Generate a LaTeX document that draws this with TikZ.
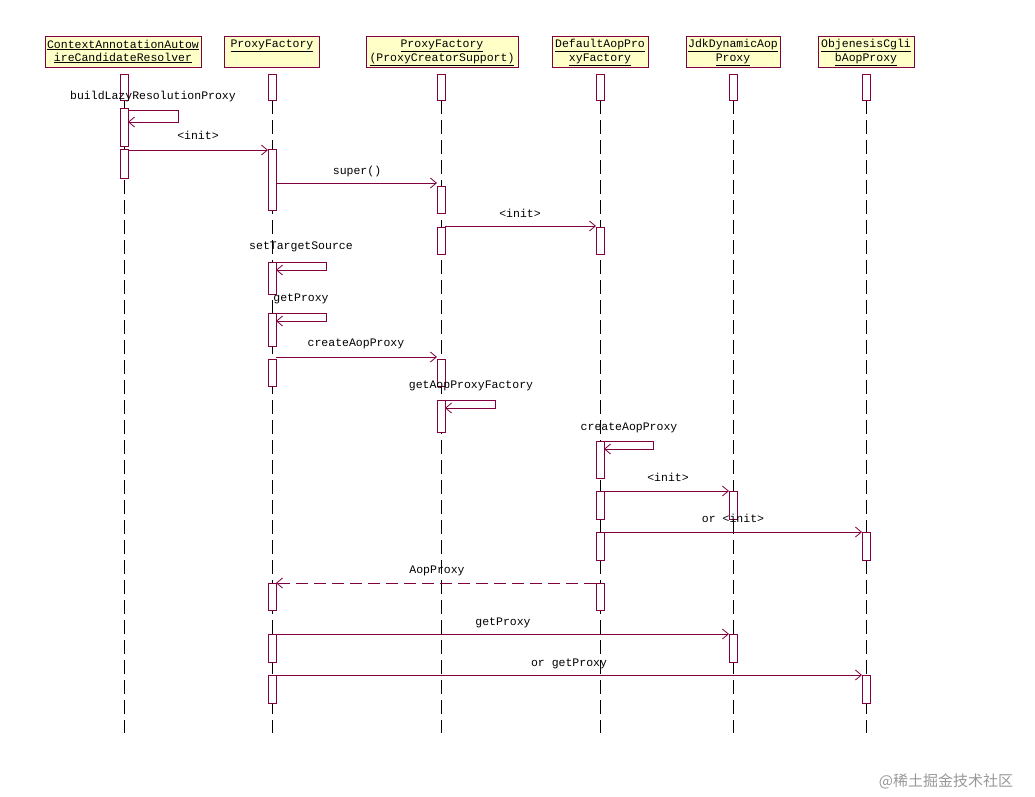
\documentclass[tikz,border=0pt]{standalone}
\usepackage{fontspec}
\setmainfont{Liberation Mono}
\newfontfamily\cjk{Noto Sans CJK SC}
\usetikzlibrary{arrows.meta}
\begin{document}
\begin{tikzpicture}[x=1pt,y=-1pt,
  font=\fontsize{11.5}{13}\selectfont,
  every node/.style={inner sep=1pt},
  hdr/.style={draw=mar,fill=hy,line width=0.8pt,minimum height=31pt,align=center,inner sep=1pt,anchor=north},
  bar/.style={draw=mar,fill=white,line width=0.8pt},
  life/.style={draw=black,line width=0.6pt,dash pattern=on 14pt off 6pt},
  msg/.style={draw=mar,line width=0.8pt,-{Straight Barb[length=6pt,width=10pt]}},
  ret/.style={msg,dash pattern=on 12pt off 6pt},
  lbl/.style={anchor=base}]
\definecolor{mar}{HTML}{800040}
\definecolor{hy}{HTML}{FFFFC8}
\useasboundingbox (0,0) rectangle (1035,796);
\fill[white] (0,0) rectangle (1035,796);
% lifelines
\foreach \n/\x in {a/124,b/272,c/441,d/600,e/733,f/866}{
  \coordinate (\n top) at (\x,100);
  \coordinate (\n bot) at (\x,733);
  \draw[life] (\n top) -- (\n bot);
}
% headers
\node[hdr,minimum width=156pt] (ha) at (123,36) {\strut\underline{ContextAnnotationAutow}\\\strut\underline{ireCandidateResolver}};
\node[hdr,minimum width=95pt] (hb) at (272,36) {\strut\underline{ProxyFactory}\\\strut};
\node[hdr,minimum width=152pt] (hc) at (442,36) {\strut\underline{ProxyFactory}\\\strut\underline{(ProxyCreatorSupport)}};
\node[hdr,minimum width=96pt] (hd) at (600,36) {\strut\underline{DefaultAopPro}\\\strut\underline{xyFactory}};
\node[hdr,minimum width=94pt] (he) at (733,36) {\strut\underline{JdkDynamicAop}\\\strut\underline{Proxy}};
\node[hdr,minimum width=96pt] (hf) at (866,36) {\strut\underline{ObjenesisCgli}\\\strut\underline{bAopProxy}};
% activation bars
\foreach \x/\a/\b in {124/74/100,124/108/146,124/149/178,
  272/74/100,272/149/210,272/262/294,272/313/346,272/359/386,272/583/610,272/634/662,272/675/703,
  441/74/100,441/186/213,441/227/254,441/359/386,441/400/432,
  600/74/100,600/227/254,600/441/478,600/491/519,600/532/560,600/583/610,
  733/74/100,733/491/519,733/634/662,
  866/74/100,866/532/560,866/675/703}{
  \draw[bar] (\x-4,\a) rectangle (\x+4,\b);
}
% coordinates for messages
\coordinate (s1a) at (128,110); \coordinate (s1b) at (128,122);
\coordinate (m1a) at (128,150); \coordinate (m1b) at (268,150);
\coordinate (m2a) at (276,183); \coordinate (m2b) at (437,183);
\coordinate (m3a) at (445,226); \coordinate (m3b) at (596,226);
\coordinate (s2a) at (276,262); \coordinate (s2b) at (276,270);
\coordinate (s3a) at (276,313); \coordinate (s3b) at (276,321);
\coordinate (m4a) at (276,357); \coordinate (m4b) at (437,357);
\coordinate (s4a) at (445,400); \coordinate (s4b) at (445,408);
\coordinate (s5a) at (604,441); \coordinate (s5b) at (604,449);
\coordinate (m5a) at (604,491); \coordinate (m5b) at (729,491);
\coordinate (m6a) at (604,532); \coordinate (m6b) at (862,532);
\coordinate (m7a) at (596,583); \coordinate (m7b) at (276,583);
\coordinate (m8a) at (276,634); \coordinate (m8b) at (729,634);
\coordinate (m9a) at (276,675); \coordinate (m9b) at (862,675);
% self messages
\draw[msg] (s1a) -- ++(50,0) |- (s1b);
\draw[msg] (s2a) -- ++(50,0) |- (s2b);
\draw[msg] (s3a) -- ++(50,0) |- (s3b);
\draw[msg] (s4a) -- ++(50,0) |- (s4b);
\draw[msg] (s5a) -- ++(49,0) |- (s5b);
% calls
\draw[msg] (m1a) -- (m1b);
\draw[msg] (m2a) -- (m2b);
\draw[msg] (m3a) -- (m3b);
\draw[msg] (m4a) -- (m4b);
\draw[msg] (m5a) -- (m5b);
\draw[msg] (m6a) -- (m6b);
\draw[ret] (m7a) -- (m7b);
\draw[msg] (m8a) -- (m8b);
\draw[msg] (m9a) -- (m9b);
% labels
\node[lbl] (l1) at (153,99) {buildLazyResolutionProxy};
\node[lbl] (l2) at (198,139) {<init>};
\node[lbl] (l3) at (357,174) {super()};
\node[lbl] (l4) at (520,217) {<init>};
\node[lbl] (l5) at (301,249) {setTargetSource};
\node[lbl] (l6) at (301,301) {getProxy};
\node[lbl] (l7) at (356,346) {createAopProxy};
\node[lbl] (l8) at (471,388) {getAopProxyFactory};
\node[lbl] (l9) at (629,430) {createAopProxy};
\node[lbl] (l10) at (668,481) {<init>};
\node[lbl] (l11) at (733,522) {or <init>};
\node[lbl] (l12) at (437,573) {AopProxy};
\node[lbl] (l13) at (503,625) {getProxy};
\node[lbl] (l14) at (569,666) {or getProxy};
\node[anchor=base,text=black!40,font=\cjk\fontsize{15}{16}\selectfont] (wm) at (946,786) {@稀土掘金技术社区};
\end{tikzpicture}
\end{document}
